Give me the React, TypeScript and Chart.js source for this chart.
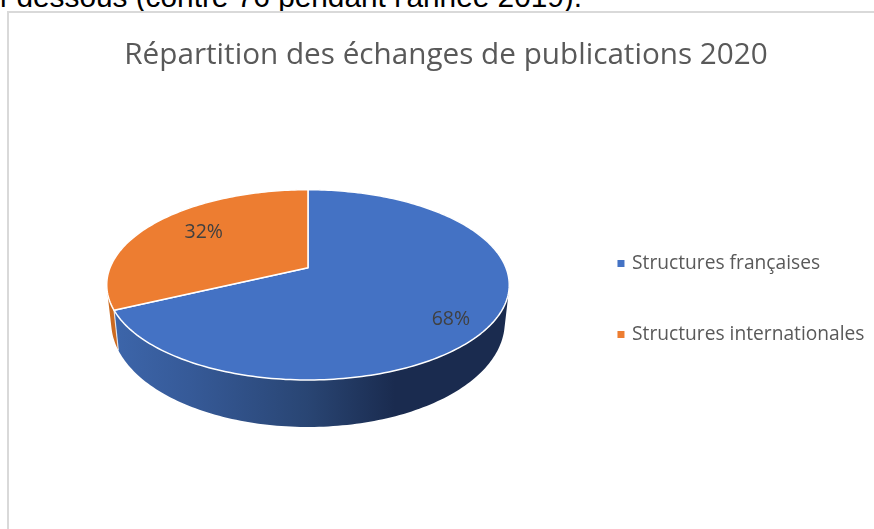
import React, { useEffect, useRef } from "react";
import { Chart, registerables } from "chart.js";

Chart.register(...registerables);

const TITLE = "Répartition des échanges de publications 2020";
const CATEGORIES = ["Structures françaises", "Structures internationales"];
const VALUES = [68, 32];
const COLORS = ["#4472C4", "#ED7D31"];
const TOP_TEXT = "ci-dessous (contre 76 pendant l'année 2019).";
const FONT = '"Open Sans", sans-serif';

// view of the tilted disc
const PERSPECTIVE = 0.179;
const FLATTEN = 0.465;
const DEPTH = 47;
const DEPTH_FADE = 0.26;
const RIM_SHRINK = 0.978;
const APEX_DX = 15.5;
const APEX_DY = -33.5;
const LABEL_NUDGE = [[-2, 9], [20, 1]];

const tiltedPie = {
  id: "tiltedPie",
  beforeDatasetsDraw(chart: any) {
    const ctx = chart.ctx;
    const arcs = chart.getDatasetMeta(0).data;
    const first = arcs[0];
    const cx = first.x + APEX_DX;
    const cy = first.y + APEX_DY;
    const R = first.outerRadius;
    const project = (theta: number, f = 1, lower = false) => {
      const X = Math.cos(theta) * f;
      const Y = -Math.sin(theta) * f;
      const d = 1 + PERSPECTIVE * Y;
      const k = lower ? RIM_SHRINK : 1;
      const drop = lower ? DEPTH * (1 - DEPTH_FADE * (Y + 1)) : 0;
      return [cx + (R * X * k) / d, cy - (R * FLATTEN * Y) / d + drop];
    };
    const trace = (a: number, b: number) => {
      const n = Math.max(2, Math.ceil(Math.abs(b - a) / 0.02));
      for (let i = 0; i <= n; i++) {
        const p = project(a + ((b - a) * i) / n);
        ctx.lineTo(p[0], p[1]);
      }
    };
    ctx.save();
    const blueWall = ctx.createLinearGradient(cx - R, 0, cx + R, 0);
    blueWall.addColorStop(0, "#3d66ab");
    blueWall.addColorStop(0.2, "#365a98");
    blueWall.addColorStop(0.5, "#294573");
    blueWall.addColorStop(0.72, "#1a2b4f");
    blueWall.addColorStop(1, "#1a2b4f");
    const orangeWall = "#cc6a20";
    // sides, last slice first so the first slice overlaps it
    for (let i = arcs.length - 1; i >= 0; i--) {
      const a = arcs[i];
      ctx.fillStyle = i === 0 ? blueWall : orangeWall;
      const n = Math.ceil((a.endAngle - a.startAngle) / 0.02);
      ctx.beginPath();
      for (let s = 0; s < n; s++) {
        const t0 = a.startAngle + ((a.endAngle - a.startAngle) * s) / n;
        const t1 = a.startAngle + ((a.endAngle - a.startAngle) * (s + 1)) / n;
        let p = [project(t0), project(t1), project(t1, 1, true), project(t0, 1, true)];
        let area = 0;
        p.forEach((q, j) => {
          const r = p[(j + 1) % 4];
          area += q[0] * r[1] - r[0] * q[1];
        });
        if (area < 0) p = p.reverse();
        ctx.moveTo(p[0][0], p[0][1]);
        ctx.lineTo(p[1][0], p[1][1]);
        ctx.lineTo(p[2][0], p[2][1]);
        ctx.lineTo(p[3][0], p[3][1]);
        ctx.closePath();
      }
      ctx.fill();
    }
    // edge of the first slice on the visible side
    const e0 = project(arcs[0].endAngle);
    const e1 = project(arcs[0].endAngle, 1, true);
    ctx.beginPath();
    ctx.moveTo(e0[0], e0[1]);
    ctx.lineTo(e1[0], e1[1]);
    ctx.strokeStyle = "rgba(255,255,255,0.75)";
    ctx.lineWidth = 1.2;
    ctx.stroke();
    // top faces
    arcs.forEach((a: any, i: number) => {
      ctx.beginPath();
      ctx.moveTo(cx, cy);
      trace(a.startAngle, a.endAngle);
      ctx.closePath();
      ctx.fillStyle = COLORS[i];
      ctx.fill();
      ctx.strokeStyle = "#ffffff";
      ctx.lineWidth = 1.5;
      ctx.lineJoin = "round";
      ctx.stroke();
    });
    // percentage labels
    ctx.font = `19.5px ${FONT}`;
    ctx.fillStyle = "#404040";
    ctx.textAlign = "center";
    ctx.textBaseline = "middle";
    arcs.forEach((a: any, i: number) => {
      const p = project((a.startAngle + a.endAngle) / 2, 0.8);
      ctx.fillText(`${VALUES[i]}%`, p[0] + LABEL_NUDGE[i][0], p[1] + LABEL_NUDGE[i][1]);
    });
    ctx.restore();
    return false;
  },
};

export default function App() {
  const ref = useRef<HTMLCanvasElement>(null);
  useEffect(() => {
    const chart = new Chart(ref.current as HTMLCanvasElement, {
      type: "pie",
      data: {
        labels: CATEGORIES,
        datasets: [
          {
            data: VALUES,
            backgroundColor: COLORS,
            borderColor: COLORS,
            borderWidth: 4,
          },
        ],
      },
      options: {
        animation: false,
        responsive: false,
        radius: 198,
        layout: { padding: { left: 17.5, right: -0.5, top: 0, bottom: -69 } },
        plugins: {
          title: {
            display: true,
            text: TITLE,
            color: "#595959",
            font: { family: FONT, size: 29.7, weight: "normal" },
            padding: { top: 38, bottom: 0 },
          },
          legend: {
            position: "right",
            labels: {
              boxWidth: 3,
              boxHeight: 3,
              padding: 52,
              color: "#595959",
              font: { family: FONT, size: 19.2 },
            },
          },
          tooltip: { enabled: false },
        },
      },
      plugins: [tiltedPie],
    } as any);
    return () => chart.destroy();
  }, []);
  return (
    <div style={{ position: "fixed", left: 0, top: 0, width: 874, height: 529, overflow: "hidden", background: "#fff" }}>
      <div
        style={{
          position: "absolute",
          left: -15,
          top: -17,
          whiteSpace: "nowrap",
          fontFamily: '"Liberation Sans", sans-serif',
          fontSize: 29.8,
          lineHeight: "28px",
          color: "#000",
        }}
      >
        {TOP_TEXT}
      </div>
      <div
        style={{
          position: "absolute",
          left: 7,
          top: 11,
          width: 900,
          height: 600,
          borderLeft: "2px solid #d9d9d9",
          borderTop: "2px solid #d9d9d9",
          background: "#fff",
        }}
      />
      <canvas ref={ref} width={874} height={529} style={{ position: "absolute", left: 0, top: 0 }} />
    </div>
  );
}
